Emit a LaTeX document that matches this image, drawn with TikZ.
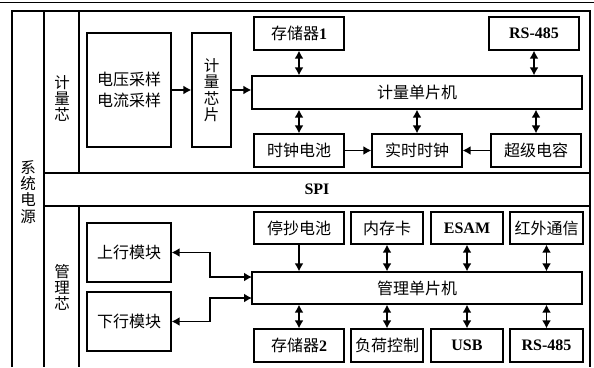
\documentclass[tikz,border=0pt]{standalone}
\usepackage{fontspec}
\setmainfont{Liberation Serif}
\newfontfamily\cjk{Noto Sans CJK SC}
\usetikzlibrary{arrows.meta}
\begin{document}
\begin{tikzpicture}[x=1pt,y=-1pt,
  box/.style={draw,line width=1.2pt,inner sep=0pt,align=center,
    font=\cjk\fontsize{16}{19}\selectfont},
  lat/.style={font=\bfseries\fontsize{16}{18}\selectfont},
  lbl/.style={inner sep=0pt,align=center,font=\cjk\fontsize{15.5}{16}\selectfont},
  dbl/.style={line width=1.7pt,{Latex[length=8pt,width=9pt]}-{Latex[length=8pt,width=9pt]}},
  one/.style={line width=1.7pt,-{Latex[length=8pt,width=9pt]}},
  frame/.style={line width=1.2pt}]
\useasboundingbox (0,0) rectangle (594,367);
% frame
\draw[frame] (0,2.5) -- (594,2.5);
\draw[frame] (12,367) -- (12,11) -- (590,11) -- (590,367);
\draw[frame] (44,11) -- (44,367);
\draw[frame] (79,11) -- (79,173);
\draw[frame] (79,206) -- (79,367);
\draw[frame] (44,173) -- (590,173);
\draw[frame] (44,206) -- (590,206);
\node[lbl,font=\cjk\fontsize{15.5}{16.3}\selectfont] (sys) at (28,192) {系\\统\\电\\源};
\node[lbl] (jlx) at (62,98) {计\\量\\芯};
\node[lbl] (glx) at (62,287) {管\\理\\芯};
\node[lat] (spi) at (317,189.5) {SPI};
% upper part
\node[box,minimum width=84pt,minimum height=114pt,font=\cjk\fontsize{16}{21}\selectfont] (vi) at (129,90) {电压采样\\电流采样};
\node[box,minimum width=39pt,minimum height=114pt,font=\cjk\fontsize{15.5}{16.5}\selectfont] (chip) at (211.5,90) {计\\量\\芯\\片};
\node[box,minimum width=330pt,minimum height=33pt] (mcu1) at (417,92.5) {计量单片机};
\node[box,minimum width=90pt,minimum height=33pt] (mem1) at (299,33.5) {存储器\textbf{\rmfamily 1}};
\node[box,lat,minimum width=90pt,minimum height=33pt] (rs1) at (534,33.5) {RS-485};
\node[box,minimum width=90pt,minimum height=33pt] (bat) at (299,150.5) {时钟电池};
\node[box,minimum width=90pt,minimum height=33pt] (rtc) at (417,150.5) {实时时钟};
\node[box,minimum width=90pt,minimum height=33pt] (cap) at (536,150.5) {超级电容};
\draw[one] (vi.east) -- (chip.west);
\draw[one] (chip.east) -- (chip.east -| mcu1.west);
\draw[dbl] (mem1.south) -- (mem1.south |- mcu1.north);
\draw[dbl] (rs1.south) -- (rs1.south |- mcu1.north);
\draw[dbl] (bat.north) -- (bat.north |- mcu1.south);
\draw[dbl] (rtc.north) -- (rtc.north |- mcu1.south);
\draw[dbl] (cap.north) -- (cap.north |- mcu1.south);
\draw[one] (bat.east) -- (rtc.west);
\draw[one] (cap.west) -- (rtc.east);
% lower part
\node[box,minimum width=330pt,minimum height=32pt] (mcu2) at (417,288) {管理单片机};
\node[box,minimum width=84pt,minimum height=59pt] (up) at (129,252.5) {上行模块};
\node[box,minimum width=84pt,minimum height=59pt] (down) at (129,321.5) {下行模块};
\node[box,minimum width=90pt,minimum height=32pt] (b1) at (299,228) {停抄电池};
\node[box,minimum width=72pt,minimum height=32pt] (b2) at (387,228) {内存卡};
\node[box,lat,minimum width=72pt,minimum height=32pt] (b3) at (467,228) {ESAM};
\node[box,minimum width=73pt,minimum height=32pt] (b4) at (546.5,228) {红外通信};
\node[box,minimum width=90pt,minimum height=33pt] (c1) at (299,345.5) {存储器\textbf{\rmfamily 2}};
\node[box,minimum width=72pt,minimum height=33pt] (c2) at (387,345.5) {负荷控制};
\node[box,lat,minimum width=72pt,minimum height=33pt] (c3) at (467,345.5) {USB};
\node[box,lat,minimum width=73pt,minimum height=33pt] (c4) at (546.5,345.5) {RS-485};
\draw[one] (b1.south) -- (b1.south |- mcu2.north);
\draw[dbl] (b2.south) -- (b2.south |- mcu2.north);
\draw[dbl] (b3.south) -- (b3.south |- mcu2.north);
\draw[dbl] (b4.south) -- (b4.south |- mcu2.north);
\draw[dbl] (c1.north) -- (c1.north |- mcu2.south);
\draw[dbl] (c2.north) -- (c2.north |- mcu2.south);
\draw[dbl] (c3.north) -- (c3.north |- mcu2.south);
\draw[dbl] (c4.north) -- (c4.north |- mcu2.south);
\coordinate (ua) at (252,277);
\coordinate (da) at (252,298);
\draw[dbl] (up.east) -- (210,252.5) |- (ua);
\draw[dbl] (down.east) -- (210,321.5) |- (da);
\end{tikzpicture}
\end{document}
